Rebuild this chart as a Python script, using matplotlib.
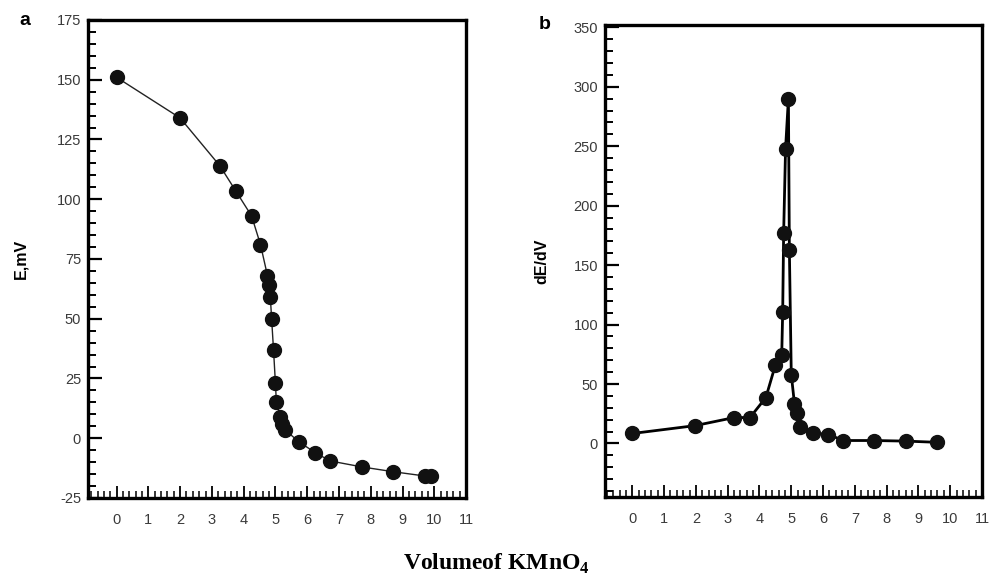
import numpy as np
import matplotlib.pyplot as plt
from matplotlib.ticker import MultipleLocator

plt.rcParams['font.family'] = ['Liberation Sans', 'DejaVu Sans']
plt.rcParams['mathtext.fontset'] = 'custom'
plt.rcParams['mathtext.rm'] = 'Liberation Serif:bold'
plt.rcParams['mathtext.bf'] = 'Liberation Serif:bold'
plt.rcParams['axes.unicode_minus'] = False

# Curva de titulação (a): potencial vs volume
vol_a = [0, 2, 3.25, 3.75, 4.25, 4.53, 4.75, 4.8, 4.84, 4.88, 4.94, 5.0, 5.03,
         5.15, 5.2, 5.3, 5.75, 6.25, 6.72, 7.72, 8.7, 9.7, 9.9]
pot_a = [151, 134, 114, 103.5, 93, 81, 68, 64, 59, 50, 37, 23, 15,
         9, 6, 3.5, -1.6, -6, -9.5, -12, -14, -15.8, -16]

# Primeira derivada (b): dE/dV vs volume
vol_b = [0, 1.97, 3.2, 3.7, 4.2, 4.5, 4.7, 4.73, 4.76, 4.82, 4.91, 4.94, 5.0,
         5.1, 5.18, 5.28, 5.68, 6.17, 6.64, 7.6, 8.6, 9.58]
deriv_b = [8.4, 15, 21.8, 21.8, 38.6, 66, 74.6, 111, 177, 248, 290, 163, 58,
           33.5, 26, 13.6, 9, 7.5, 2.5, 2.5, 2, 1]

x_ticks = list(range(0, 12))

fig = plt.figure(figsize=(9.92, 5.81), dpi=100)
ax_a = fig.add_axes([0.0887, 0.1429, 0.3811, 0.8227])
ax_b = fig.add_axes([0.6099, 0.1446, 0.3800, 0.8124])

ax_a.plot(vol_a, pot_a, '-o', color='#222222', lw=1.0, ms=10, mfc='#111111', mec='#111111')
ax_b.plot(vol_b, deriv_b, '-o', color='black', lw=2.0, ms=10, mfc='#111111', mec='#111111')

ax_a.set_xlim(-0.9, 10.9)
ax_a.set_ylim(-25, 175)
ax_a.yaxis.set_major_locator(MultipleLocator(25))
ax_a.yaxis.set_minor_locator(MultipleLocator(5))

ax_b.set_xlim(-0.86, 10.77)
ax_b.set_ylim(-45, 352)
ax_b.set_yticks([0, 50, 100, 150, 200, 250, 300, 350])
ax_b.yaxis.set_minor_locator(MultipleLocator(10))

for ax in (ax_a, ax_b):
    ax.set_xticks(x_ticks)
    ax.xaxis.set_minor_locator(MultipleLocator(0.2))
    for s in ax.spines.values():
        s.set_linewidth(2.4)
    ax.tick_params(which='both', direction='in', top=False, right=False,
                   labelcolor='#3a3a3a', labelsize=10.5)
    ax.tick_params(axis='x', which='major', length=9, width=1.3, pad=11)
    ax.tick_params(axis='x', which='minor', length=5, width=1.1)
    ax.tick_params(axis='y', which='major', length=10, width=1.6, pad=5)
    ax.tick_params(axis='y', which='minor', length=6, width=1.4)

ax_a.set_ylabel('E,mV', fontsize=11.5, fontweight='bold', labelpad=20)
ax_b.set_ylabel('dE/dV', fontsize=11.5, fontweight='bold', labelpad=17)

fig.text(0.020, 0.965, 'a', fontsize=14, fontweight='bold', va='center')
fig.text(0.543, 0.957, 'b', fontsize=14, fontweight='bold', va='center')

fig.text(0.5, 0.03, r'Volumeof KMnO$_{\mathbf{4}}$', ha='center', va='center',
         fontsize=17, family='Liberation Serif', fontweight='bold')

fig.savefig('out.png', dpi=100)
